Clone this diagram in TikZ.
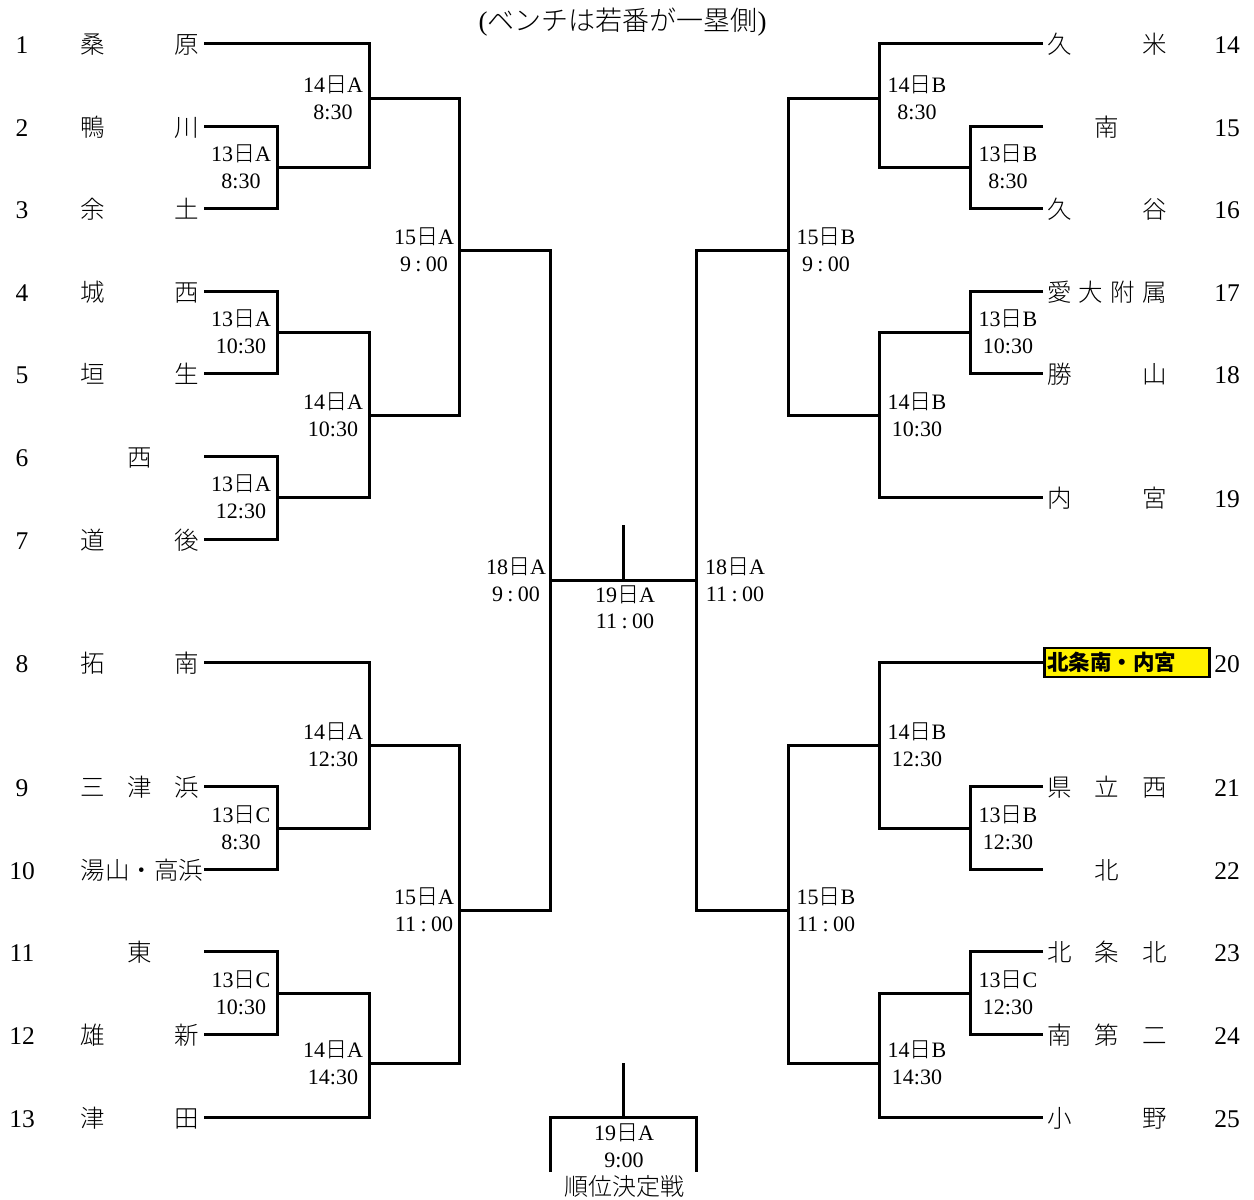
\documentclass[tikz,border=0pt]{standalone}
\usepackage{fontspec}
\setmainfont{Liberation Serif}
\newfontfamily\jp{Noto Sans CJK JP Light}
\newfontfamily\jpb{Noto Sans CJK JP}
\newcommand\dd[2]{#1{\jp 日}#2}
\newcommand\tsp[2]{#1\hspace{0.2em}:\hspace{0.2em}#2}
\tikzset{
  ln/.style={line width=3pt, line join=miter, line cap=butt},
  lab/.style={font=\fontsize{22}{26}\selectfont, anchor=base, inner sep=0pt},
  tnum/.style={font=\fontsize{25.5}{30}\selectfont, anchor=base, inner sep=0pt},
  tname/.style={font=\fontsize{24.5}{30}\selectfont\jp, anchor=base, inner sep=0pt},
}
\newcommand\teamL[4]{%
  \node[tnum] (n#1) at (22,{#2+10}) {#3};
  \node[tname] (t#1) at (140,{#2+10}) {\makebox[119pt][s]{#4}};
  \coordinate (e#1) at (204,#2);}
\newcommand\teamR[4]{%
  \node[tnum] (n#1) at (1227,{#2+10}) {#3};
  \node[tname] (t#1) at (1107,{#2+10}) {\makebox[119pt][s]{#4}};
  \coordinate (e#1) at (1043,#2);}
\newcommand\mlab[5]{%
  \node[lab] (#1a) at (#2,{#3-5.5}) {#4};
  \node[lab] (#1b) at (#2,{#3+21.5}) {#5};}
\begin{document}
\begin{tikzpicture}[x=1pt,y=-1pt]
\useasboundingbox (0,0) rectangle (1254,1200);
% title
\node[font=\fontsize{27}{30}\selectfont, anchor=base, inner sep=0pt] (title) at (622.5,30) {({\jp ベンチは若番が一塁側})};
% left teams
\teamL{1}{43}{1}{桑\hfill 原}
\teamL{2}{126}{2}{鴨\hfill 川}
\teamL{3}{208}{3}{余\hfill 土}
\teamL{4}{291}{4}{城\hfill 西}
\teamL{5}{373}{5}{垣\hfill 生}
\teamL{6}{456}{6}{\hfill 西\hfill}
\teamL{7}{539}{7}{道\hfill 後}
\teamL{8}{662}{8}{拓\hfill 南}
\teamL{9}{786}{9}{三\hfill 津\hfill 浜}
\teamL{10}{869}{10}{湯\hfill 山\hfill ・\hfill 高\hfill 浜}
\teamL{11}{951}{11}{\hfill 東\hfill}
\teamL{12}{1034}{12}{雄\hfill 新}
\teamL{13}{1117}{13}{津\hfill 田}
% right teams
\teamR{14}{43}{14}{久\hfill 米}
\teamR{15}{126}{15}{\hfill 南\hfill}
\teamR{16}{208}{16}{久\hfill 谷}
\teamR{17}{291}{17}{愛\hfill 大\hfill 附\hfill 属}
\teamR{18}{373}{18}{勝\hfill 山}
\teamR{19}{497}{19}{内\hfill 宮}
\teamR{21}{786}{21}{県\hfill 立\hfill 西}
\teamR{22}{869}{22}{\hfill 北\hfill}
\teamR{23}{951}{23}{北\hfill 条\hfill 北}
\teamR{24}{1034}{24}{南\hfill 第\hfill 二}
\teamR{25}{1117}{25}{小\hfill 野}
\node[tnum] (n20) at (1227,672) {20};
\coordinate (e20) at (1043,662);
% left matches
\coordinate (m1) at (277,167);
\coordinate (m2) at (369,98);
\coordinate (m3) at (277,332);
\coordinate (m4) at (277,497);
\coordinate (m5) at (369,415);
\coordinate (m6) at (459,250);
\coordinate (m7) at (277,828);
\coordinate (m8) at (369,745);
\coordinate (m9) at (277,993);
\coordinate (m10) at (369,1063);
\coordinate (m11) at (459,910);
\coordinate (m12) at (550,580);
% right matches
\coordinate (r1) at (970,167);
\coordinate (r2) at (879,98);
\coordinate (r3) at (970,332);
\coordinate (r5) at (879,415);
\coordinate (r6) at (788,250);
\coordinate (r7) at (970,828);
\coordinate (r8) at (879,745);
\coordinate (r9) at (970,993);
\coordinate (r10) at (879,1063);
\coordinate (r11) at (788,910);
\coordinate (r12) at (696,580);
% left bracket lines
\draw[ln] (e2) -| (m1) |- (e3);
\draw[ln] (e1) -| (m2) |- (m1);
\draw[ln] (e4) -| (m3) |- (e5);
\draw[ln] (e6) -| (m4) |- (e7);
\draw[ln] (m3) -| (m5) |- (m4);
\draw[ln] (m2) -| (m6) |- (m5);
\draw[ln] (e9) -| (m7) |- (e10);
\draw[ln] (e8) -| (m8) |- (m7);
\draw[ln] (e11) -| (m9) |- (e12);
\draw[ln] (m9) -| (m10) |- (e13);
\draw[ln] (m8) -| (m11) |- (m10);
\draw[ln] (m6) -| (m12) |- (m11);
% right bracket lines
\draw[ln] (e15) -| (r1) |- (e16);
\draw[ln] (e14) -| (r2) |- (r1);
\draw[ln] (e17) -| (r3) |- (e18);
\draw[ln] (r3) -| (r5) |- (e19);
\draw[ln] (r2) -| (r6) |- (r5);
\draw[ln] (e21) -| (r7) |- (e22);
\draw[ln] (e20) -| (r8) |- (r7);
\draw[ln] (e23) -| (r9) |- (e24);
\draw[ln] (r9) -| (r10) |- (e25);
\draw[ln] (r8) -| (r11) |- (r10);
\draw[ln] (r6) -| (r12) |- (r11);
% final
\draw[ln] (m12) -- (r12);
\coordinate (ftop) at (623,525);
\draw[ln] (ftop) -- (ftop |- m12);
% placement match
\coordinate (stop) at (623,1063);
\coordinate (smid) at (623,1117);
\coordinate (sl) at (550,1172);
\coordinate (sr) at (696,1172);
\draw[ln] (stop) -- (smid);
\draw[ln] (sl) |- (smid) -| (sr);
% highlighted team 20
\node[draw, fill=yellow, line width=2.5pt, minimum width=165pt, minimum height=29pt, inner sep=0pt, anchor=west, font=\fontsize{21.5}{26}\selectfont\jpb\bfseries] (t20) at (1043,662.5) {\makebox[165pt][l]{\hspace{3pt}北条南・内宮}};
% labels
\mlab{L1}{241}{167}{\dd{13}{A}}{8:30}
\mlab{L2}{333}{98}{\dd{14}{A}}{8:30}
\mlab{L3}{241}{332}{\dd{13}{A}}{10:30}
\mlab{L4}{241}{497}{\dd{13}{A}}{12:30}
\mlab{L5}{333}{415}{\dd{14}{A}}{10:30}
\mlab{L6}{424}{250}{\dd{15}{A}}{\tsp{9}{00}}
\mlab{L7}{241}{828}{\dd{13}{C}}{8:30}
\mlab{L8}{333}{745}{\dd{14}{A}}{12:30}
\mlab{L9}{241}{993}{\dd{13}{C}}{10:30}
\mlab{L10}{333}{1063}{\dd{14}{A}}{14:30}
\mlab{L11}{424}{910}{\dd{15}{A}}{\tsp{11}{00}}
\mlab{L12}{516}{580}{\dd{18}{A}}{\tsp{9}{00}}
\mlab{R1}{1008}{167}{\dd{13}{B}}{8:30}
\mlab{R2}{917}{98}{\dd{14}{B}}{8:30}
\mlab{R3}{1008}{332}{\dd{13}{B}}{10:30}
\mlab{R5}{917}{415}{\dd{14}{B}}{10:30}
\mlab{R6}{826}{250}{\dd{15}{B}}{\tsp{9}{00}}
\mlab{R7}{1008}{828}{\dd{13}{B}}{12:30}
\mlab{R8}{917}{745}{\dd{14}{B}}{12:30}
\mlab{R9}{1008}{993}{\dd{13}{C}}{12:30}
\mlab{R10}{917}{1063}{\dd{14}{B}}{14:30}
\mlab{R11}{826}{910}{\dd{15}{B}}{\tsp{11}{00}}
\mlab{R12}{735}{580}{\dd{18}{A}}{\tsp{11}{00}}
\node[lab] (fa) at (625,602) {\dd{19}{A}};
\node[lab] (fb) at (625,628) {\tsp{11}{00}};
\node[lab] (sa) at (624,1140) {\dd{19}{A}};
\node[lab] (sb) at (624,1167) {9:00};
\node[lab, font=\fontsize{24}{28}\selectfont\jp] (sc) at (624.5,1195) {順位決定戦};
\end{tikzpicture}
\end{document}
